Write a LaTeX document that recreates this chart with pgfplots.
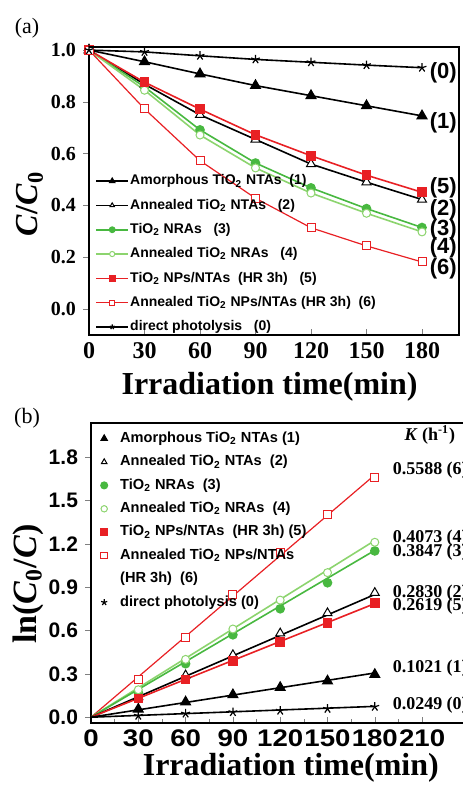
\documentclass[border=0pt]{standalone}
\usepackage{fontspec}
\setmainfont{Liberation Serif}
\setsansfont{Liberation Sans}
\usepackage{pgfplots}
\pgfplotsset{compat=1.18}
\definecolor{cred}{RGB}{232,32,36}
\definecolor{cgreen}{RGB}{72,184,64}
\definecolor{clgreen}{RGB}{140,212,110}

\pgfplotsset{
  s0/.style={black, line width=0.8pt, mark=star, mark size=2.3pt, mark options={line width=0.6pt}},
  s1/.style={black, line width=0.8pt, mark=triangle*, mark size=2.6pt},
  s2/.style={black, line width=0.8pt, mark=triangle*, mark size=2.6pt, mark options={fill=white, line width=0.5pt}},
  s3/.style={cgreen, line width=0.8pt, mark=*, mark size=2pt},
  s4/.style={clgreen, line width=0.8pt, mark=*, mark size=2pt, mark options={fill=white, line width=0.5pt}},
  s5/.style={cred, line width=0.8pt, mark=square*, mark size=2pt},
  s6/.style={cred, line width=0.6pt, mark=square*, mark size=2pt, mark options={fill=white, line width=0.5pt}},
  panel/.style={
    scale only axis,
    axis lines=box,
    axis line style={line width=1pt},
    major tick length=3pt, minor tick length=2pt,
    tick pos=left, xtick align=inside, ytick align=outside,
    /pgf/number format/assume math mode=true,
    yticklabel style={/pgf/number format/fixed, /pgf/number format/fixed zerofill, /pgf/number format/precision=1},
  },
}

\begin{document}
\begin{tikzpicture}
\path[use as bounding box] (0,0) rectangle (231pt,392.5pt);

\node[font=\fontsize{11}{11}\selectfont] at (13.5pt,378.5pt) {(a)};
\node[font=\fontsize{11}{11}\selectfont] at (13.5pt,183.5pt) {(b)};

% ---------- (a) C/C0 ----------
\begin{axis}[panel, name=A,
  at={(44.5pt,225pt)}, anchor=south west,
  width=185pt, height=144pt,
  xmin=0, xmax=200, ymin=-0.1, ymax=1.012,
  xtick={0,30,60,90,120,150,180},
  ytick={0,0.2,0.4,0.6,0.8,1.0},
  xticklabel style={font=\bfseries\fontsize{12}{12}\selectfont},
  yticklabel style={font=\bfseries\fontsize{10}{10}\selectfont},
  xlabel={Irradiation time(min)},
  xlabel style={font=\bfseries\fontsize{16}{16}\selectfont, at={(axis description cs:0.488,-0.18)}, anchor=center},
  ylabel={\textit{C}/\textit{C}\textsubscript{0}},
  ylabel style={font=\bfseries\fontsize{16}{16}\selectfont, at={(axis description cs:-0.16,0.455)}, anchor=center},
  legend image code/.code={\draw[mark repeat=2,mark phase=2,#1,mark size=1.3pt] plot coordinates {(0pt,0pt)(8pt,0pt)(16pt,0pt)};},
  legend style={at={(axis description cs:0.0,0.578)}, anchor=north west, draw=none, fill=none,
    font=\sffamily\bfseries\fontsize{7}{8}\selectfont, row sep=3.95pt,
    nodes={inner sep=0.6pt, text height=5.4pt, text depth=1.6pt}},
  legend cell align=left,
]
\addplot[s1] coordinates {(0,1)(30,0.955)(60,0.908)(90,0.863)(120,0.824)(150,0.785)(180,0.746)};
\addlegendentry{Amorphous TiO\textsubscript{2} NTAs\ \ (1)}
\addplot[s2] coordinates {(0,1)(30,0.868)(60,0.750)(90,0.655)(120,0.560)(150,0.490)(180,0.423)};
\addlegendentry{Annealed TiO\textsubscript{2} NTAs\ \ \ (2)}
\addplot[s3] coordinates {(0,1)(30,0.858)(60,0.692)(90,0.564)(120,0.468)(150,0.388)(180,0.315)};
\addlegendentry{TiO\textsubscript{2} NRAs\ \ \ (3)}
\addplot[s4] coordinates {(0,1)(30,0.845)(60,0.672)(90,0.545)(120,0.448)(150,0.370)(180,0.298)};
\addlegendentry{Annealed TiO\textsubscript{2} NRAs\ \ \ (4)}
\addplot[s5] coordinates {(0,1)(30,0.876)(60,0.772)(90,0.673)(120,0.592)(150,0.517)(180,0.451)};
\addlegendentry{TiO\textsubscript{2} NPs/NTAs\ \ (HR 3h)\ \ \ (5)}
\addplot[s6] coordinates {(0,1)(30,0.773)(60,0.573)(90,0.428)(120,0.314)(150,0.244)(180,0.182)};
\addlegendentry{Annealed TiO\textsubscript{2} NPs/NTAs (HR 3h)\ \ (6)}
\addplot[s0] coordinates {(0,1)(30,0.993)(60,0.978)(90,0.964)(120,0.953)(150,0.942)(180,0.932)};
\addlegendentry{direct photolysis\ \ \ (0)}

\begin{scope}[font=\sffamily\bfseries\fontsize{11}{11}\selectfont]
\node at (axis cs:191.5,0.912) {(0)};
\node at (axis cs:191.5,0.719) {(1)};
\node at (axis cs:191.5,0.469) {(5)};
\node at (axis cs:191.5,0.385) {(2)};
\node at (axis cs:191.5,0.308) {(3)};
\node at (axis cs:191.5,0.238) {(4)};
\node at (axis cs:191.5,0.154) {(6)};
\end{scope}
\end{axis}

% ---------- (b) ln(C0/C) ----------
\begin{axis}[panel, name=B,
  at={(45.5pt,31pt)}, anchor=south west,
  width=189.2pt, height=150pt,
  xmin=0, xmax=240, ymin=-0.04, ymax=2.035,
  xtick={0,30,60,90,120,150,180,210},
  minor x tick num=1,
  ytick={0,0.3,0.6,0.9,1.2,1.5,1.8},
  xticklabel={\scalebox{1.15}[1]{\pgfmathprintnumber{\tick}}},
  xticklabel style={font=\sffamily\bfseries\fontsize{12}{12}\selectfont},
  yticklabel style={font=\sffamily\bfseries\fontsize{10.5}{10.5}\selectfont},
  xlabel={Irradiation time(min)},
  xlabel style={font=\bfseries\fontsize{16}{16}\selectfont, at={(axis description cs:0.528,-0.15)}, anchor=center},
  ylabel={ln(\textit{C}\textsubscript{0}/\textit{C})},
  ylabel style={font=\bfseries\fontsize{17}{17}\selectfont, at={(axis description cs:-0.166,0.463)}, anchor=center},
  legend style={at={(axis description cs:0.0,0.99)}, anchor=north west, draw=none, fill=none,
    font=\sffamily\bfseries\fontsize{7.3}{8}\selectfont, row sep=3.5pt,
    nodes={inner sep=0.6pt, text height=5.4pt, text depth=1.6pt}},
  legend cell align=left,
  mk/.style={only marks, legend image code/.code={\path (0pt,0pt) (10pt,0pt); \draw[##1,mark size=1.6pt] plot coordinates {(3pt,0pt)};}},
]
% fitted lines through the origin, ln(C0/C) = K t
\addplot[s6, no marks, forget plot] coordinates {(0,0)(180,1.676)};
\addplot[s4, no marks, forget plot] coordinates {(0,0)(180,1.222)};
\addplot[s3, no marks, forget plot] coordinates {(0,0)(180,1.154)};
\addplot[s2, no marks, forget plot] coordinates {(0,0)(180,0.849)};
\addplot[s5, no marks, forget plot] coordinates {(0,0)(180,0.786)};
\addplot[s1, no marks, forget plot] coordinates {(0,0)(180,0.306)};
\addplot[s0, no marks, forget plot] coordinates {(0,0)(180,0.075)};
% measured points
\addplot[s1, mk] coordinates {(30,0.055)(60,0.105)(90,0.155)(120,0.205)(150,0.250)(180,0.295)};
\addlegendentry{Amorphous TiO\textsubscript{2} NTAs (1)}
\addplot[s2, mk] coordinates {(30,0.14)(60,0.29)(90,0.43)(120,0.58)(150,0.72)(180,0.86)};
\addlegendentry{Annealed TiO\textsubscript{2} NTAs\ \ (2)}
\addplot[s3, mk] coordinates {(30,0.17)(60,0.37)(90,0.57)(120,0.75)(150,0.93)(180,1.15)};
\addlegendentry{TiO\textsubscript{2} NRAs\ \ (3)}
\addplot[s4, mk] coordinates {(30,0.19)(60,0.40)(90,0.61)(120,0.81)(150,1.00)(180,1.21)};
\addlegendentry{Annealed TiO\textsubscript{2} NRAs\ \ (4)}
\addplot[s5, mk] coordinates {(30,0.13)(60,0.26)(90,0.39)(120,0.52)(150,0.65)(180,0.79)};
\addlegendentry{TiO\textsubscript{2} NPs/NTAs\ \ (HR 3h) (5)}
\addplot[s6, mk] coordinates {(30,0.26)(60,0.55)(90,0.85)(120,1.14)(150,1.40)(180,1.66)};
\addlegendentry{Annealed TiO\textsubscript{2} NPs/NTAs}
\addlegendimage{empty legend}
\addlegendentry{(HR 3h)\ \ (6)}
\addplot[s0, mk] coordinates {(30,0.01)(60,0.025)(90,0.035)(120,0.045)(150,0.058)(180,0.072)};
\addlegendentry{direct photolysis (0)}

\begin{scope}[font=\bfseries\fontsize{9}{9}\selectfont, inner sep=0.5pt]
\node[anchor=west] at (axis cs:198,1.953) {\textit{K} (h\textsuperscript{-1})};
\node[anchor=west] at (axis cs:190.5,1.71) {0.5588 (6)};
\node[anchor=west] at (axis cs:190.5,1.24) {0.4073 (4)};
\node[anchor=west] at (axis cs:190.5,1.143) {0.3847 (3)};
\node[anchor=west] at (axis cs:190.5,0.859) {0.2830 (2)};
\node[anchor=west] at (axis cs:190.5,0.769) {0.2619 (5)};
\node[anchor=west] at (axis cs:190.5,0.339) {0.1021 (1)};
\node[anchor=west] at (axis cs:190.5,0.083) {0.0249 (0)};
\end{scope}
\end{axis}

% frame edges as thin filled bars (top and right sides)
\fill[black] ([yshift=-0.5pt]A.north west) rectangle ([yshift=0.5pt,xshift=0.5pt]A.north east);
\fill[black] ([xshift=-0.5pt]A.south east) rectangle ([xshift=0.5pt,yshift=0.5pt]A.north east);
\fill[black] ([yshift=-0.5pt]B.north west) rectangle ([yshift=0.5pt,xshift=0.5pt]B.north east);
\end{tikzpicture}
\end{document}
